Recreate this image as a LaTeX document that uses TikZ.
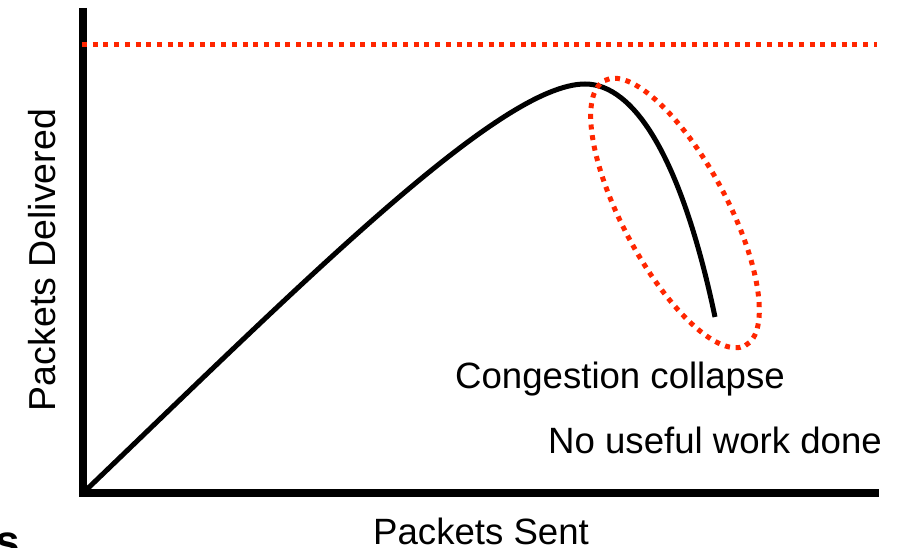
\documentclass[tikz,border=0pt]{standalone}
\usepackage{fontspec}
\setmainfont{Liberation Sans}
\definecolor{dotred}{RGB}{255,38,0}
\begin{document}
\begin{tikzpicture}[x=1pt,y=-1pt,
  axisline/.style={line width=8pt, black, line join=miter},
  curveline/.style={line width=5pt, black},
  reddots/.style={draw=dotred, line width=5pt, dash pattern=on 5pt off 5.7pt},
  lbl/.style={inner sep=0pt, font=\fontsize{36.6}{40}\selectfont},
]
\useasboundingbox (0,0) rectangle (908,548);
\clip (0,0) rectangle (908,548);
\coordinate (ytop) at (83,8);
\coordinate (origin) at (83,493);
\coordinate (xend) at (879,493);
\coordinate (peak) at (585,84);
\coordinate (tail) at (715,317);
\coordinate (limL) at (82,45);
\coordinate (limR) at (877,45);
\coordinate (ctr) at (675,213);
% axes
\draw[axisline] (ytop) -- (origin) -- (xend);
% capacity line
\draw[reddots] (limL) -- (limR);
% curve
\draw[curveline] (origin) .. controls (300,285) and (500,84) .. (peak)
  .. controls (635,84) and (682,160) .. (tail);
% ellipse
\draw[reddots, rotate around={-62:(ctr)}] (ctr) ellipse [x radius=150pt, y radius=52.5pt];
% labels
\node[lbl, anchor=base west] (cc) at (455,388) {Congestion collapse};
\node[lbl, anchor=base west] (nw) at (548,453) {No useful work done};
\node[lbl, anchor=base west] (ps) at (373,544) {Packets Sent};
\node[lbl, font=\fontsize{37.5}{40}\selectfont, rotate=90, anchor=base] (pd) at (55,260) {Packets Delivered};
\node[inner sep=0pt, anchor=base west, font=\fontsize{44}{48}\bfseries] (frag) at (-5,556) {s};
\end{tikzpicture}
\end{document}
